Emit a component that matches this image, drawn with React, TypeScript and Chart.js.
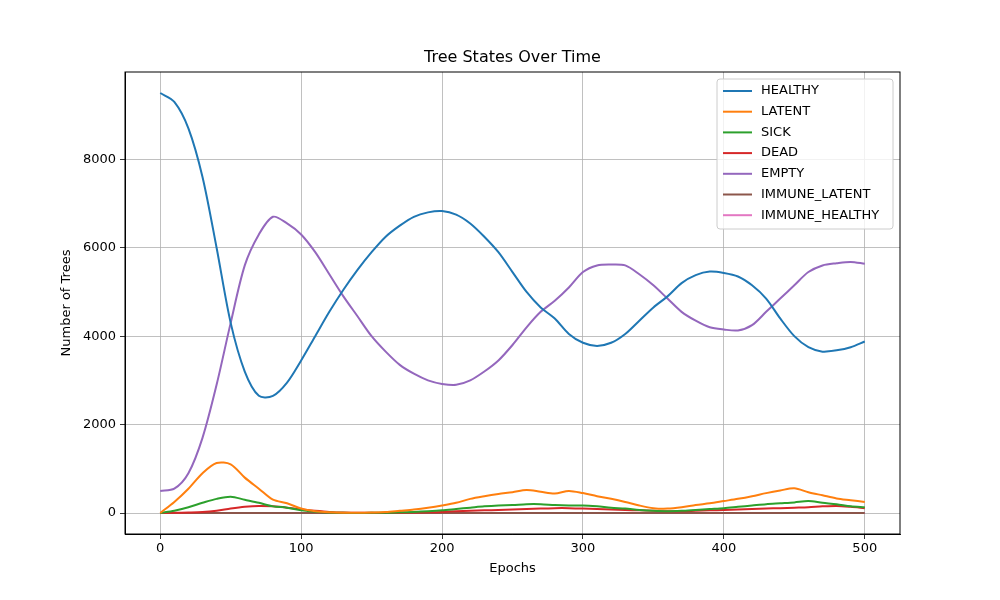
import React, { useEffect, useRef } from "react";
import { Chart, registerables } from "chart.js";
Chart.register(...registerables);

const epochs = Array.from({ length: 51 }, (_, i) => i * 10);
const healthy = [9500,9300,8700,7600,6000,4300,3200,2650,2650,2950,3450,4000,4550,5050,5500,5900,6250,6500,6700,6800,6830,6750,6550,6250,5900,5450,5000,4650,4400,4050,3850,3780,3850,4050,4350,4650,4900,5200,5380,5460,5430,5350,5150,4850,4400,4000,3750,3650,3680,3750,3880];
const latent = [0,250,550,900,1130,1100,800,550,300,220,100,40,15,5,5,10,20,50,80,120,170,230,320,380,430,470,520,480,440,500,450,380,320,250,170,110,100,130,180,220,270,320,380,450,510,560,470,400,330,290,250];
const sick = [0,50,130,230,320,370,300,230,150,120,60,30,10,3,2,3,5,15,25,40,60,90,120,150,170,180,200,200,180,170,170,150,120,100,70,50,40,50,70,90,110,140,170,200,220,240,270,230,200,150,130];
const dead = [0,5,10,20,50,100,140,160,150,120,80,50,25,10,5,3,3,5,10,15,25,40,50,60,70,80,90,100,110,110,100,90,80,70,60,50,40,40,50,60,70,80,90,100,110,120,130,150,160,140,110];
const empty = [500,550,900,1700,2900,4300,5600,6300,6700,6550,6300,5900,5400,4900,4450,4000,3650,3350,3150,3000,2920,2900,3000,3200,3450,3800,4200,4550,4800,5100,5450,5600,5620,5600,5400,5150,4850,4550,4350,4200,4150,4130,4250,4550,4850,5150,5450,5600,5650,5680,5640];
const immuneLatent = epochs.map(() => 0);
const immuneHealthy = epochs.map(() => 0);

const xTicks = [0, 100, 200, 300, 400, 500];
const yTicks = [0, 2000, 4000, 6000, 8000];

const seriesNames = ["HEALTHY","LATENT","SICK","DEAD","EMPTY","IMMUNE_LATENT","IMMUNE_HEALTHY"];
const seriesData = [healthy, latent, sick, dead, empty, immuneLatent, immuneHealthy];
const colors = ["#1f77b4","#ff7f0e","#2ca02c","#d62728","#9467bd","#8c564b","#e377c2"];
const FONT = "'DejaVu Sans', sans-serif";

export default function App() {
  const ref = useRef<HTMLCanvasElement>(null);
  useEffect(() => {
    document.body.style.margin = "0";
    const overlay = {
      id: "overlay",
      afterDraw(chart: any) {
        const { ctx, chartArea: a } = chart;
        ctx.save();
        ctx.strokeStyle = "black";
        ctx.lineWidth = 1;
        ctx.strokeRect(a.left, a.top, a.right - a.left, a.bottom - a.top);
        ctx.fillStyle = "black";
        ctx.textAlign = "center";
        ctx.textBaseline = "middle";
        ctx.font = `16px ${FONT}`;
        ctx.fillText("Tree States Over Time", (a.left + a.right) / 2, 58);
        ctx.font = `13px ${FONT}`;
        ctx.fillText("Epochs", (a.left + a.right) / 2, 569);
        ctx.save();
        ctx.translate(67, (a.top + a.bottom) / 2);
        ctx.rotate(-Math.PI / 2);
        ctx.fillText("Number of Trees", 0, 0);
        ctx.restore();
        const bx = 717, by = 79, bw = 176, bh = 150;
        ctx.fillStyle = "rgba(255,255,255,0.8)";
        ctx.strokeStyle = "#cccccc";
        ctx.beginPath();
        ctx.roundRect(bx, by, bw, bh, 3);
        ctx.fill();
        ctx.stroke();
        ctx.textAlign = "left";
        seriesNames.forEach((n, i) => {
          const y = 91 + i * 20.7;
          ctx.strokeStyle = colors[i];
          ctx.lineWidth = 2;
          ctx.beginPath();
          ctx.moveTo(723, y);
          ctx.lineTo(752, y);
          ctx.stroke();
          ctx.fillStyle = "black";
          ctx.fillText(n, 761, y);
        });
        ctx.restore();
      },
    };
    const chart = new Chart(ref.current!, {
      type: "line",
      data: {
        labels: epochs,
        datasets: seriesNames.map((n, i) => ({
          label: n,
          data: seriesData[i].map((v, j) => ({ x: epochs[j], y: v })),
          borderColor: colors[i],
          backgroundColor: colors[i],
          borderWidth: 2,
          pointRadius: 0,
          tension: 0.3,
        })),
      },
      options: {
        animation: false,
        responsive: false,
        layout: { padding: { top: 72, right: 100, left: 0, bottom: 0 } },
        plugins: { legend: { display: false }, title: { display: false }, tooltip: { enabled: false } },
        scales: {
          x: {
            type: "linear",
            min: -25,
            max: 525,
            afterFit: (s: any) => { s.height = 66; },
            afterBuildTicks: (s: any) => { s.ticks = xTicks.map((v) => ({ value: v })); },
            ticks: { color: "black", font: { family: FONT, size: 13 }, padding: 2, maxRotation: 0, callback: (v: any) => String(v) },
            grid: { color: "#b0b0b0", lineWidth: 0.8, tickLength: 5, tickColor: "black" },
            border: { color: "black" },
          },
          y: {
            min: -475,
            max: 9975,
            afterFit: (s: any) => { s.width = 125; },
            afterBuildTicks: (s: any) => { s.ticks = yTicks.map((v) => ({ value: v })); },
            ticks: { color: "black", font: { family: FONT, size: 13 }, padding: 4, callback: (v: any) => String(v) },
            grid: { color: "#b0b0b0", lineWidth: 0.8, tickLength: 5, tickColor: "black" },
            border: { color: "black" },
          },
        },
      },
      plugins: [overlay],
    } as any);
    return () => chart.destroy();
  }, []);
  return <canvas ref={ref} width={1000} height={600} style={{ display: "block" }} />;
}
